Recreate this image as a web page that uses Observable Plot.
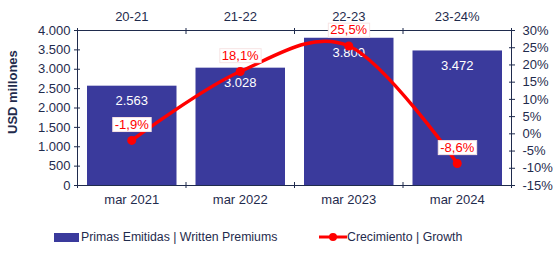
<!DOCTYPE html>
<html>
<head>
<meta charset="utf-8">
<script src="https://cdn.jsdelivr.net/npm/d3@7"></script>
<script src="https://cdn.jsdelivr.net/npm/@observablehq/plot@0.6"></script>
<style>
  html, body { margin: 0; padding: 0; background: #fff; }
  #wrap { position: relative; width: 557px; font-family: "Liberation Sans", Arial, sans-serif; }
  #legend { position: relative; height: 32px; font-size: 12.3px; color: #1F2B4D; }
  #legend .sw { position: absolute; }
  #legend .tx { position: absolute; top: 8px; white-space: nowrap; }
</style>
</head>
<body>
<div id="wrap"></div>
<script>
const categories = ["mar 2021", "mar 2022", "mar 2023", "mar 2024"];
const periods = ["20-21", "21-22", "22-23", "23-24%"];
const premiums = [2563, 3028, 3800, 3472];
const growth = [-1.9, 18.1, 25.5, -8.6];
const growthLabels = ["-1,9%", "18,1%", "25,5%", "-8,6%"];
const leftTicks = [0, 500, 1000, 1500, 2000, 2500, 3000, 3500, 4000];
const rightTicks = [-15, -10, -5, 0, 5, 10, 15, 20, 25, 30];
const seriesNames = ["Primas Emitidas | Written Premiums", "Crecimiento | Growth"];

const barColor = "#3A3A9C";
const lineColor = "#FF0000";
const navy = "#1F2B4D";

const pMin = -15, pMax = 30, yMax = 4000;
const p2y = p => (p - pMin) / (pMax - pMin) * yMax;
const fmt = d3.formatLocale({decimal: ",", thousands: ".", grouping: [3]}).format(",d");

const data = categories.map((c, i) => ({i, c, premium: premiums[i], growth: growth[i], gl: growthLabels[i]}));

const chart = Plot.plot({
  width: 557,
  height: 222,
  marginLeft: 77,
  marginRight: 46,
  marginTop: 30,
  marginBottom: 37,
  style: {fontSize: "13px", fontFamily: "'Liberation Sans', Arial, sans-serif", color: navy, background: "white"},
  x: {type: "linear", domain: [0, categories.length], axis: null, label: null},
  y: {domain: [0, yMax], axis: null, label: null},
  marks: [
    Plot.rectY(data, {x1: "i", x2: d => d.i + 1, y: "premium", insetLeft: 10, insetRight: 9, fill: barColor}),
    Plot.text(data, {x: d => d.i + 0.5, y: "premium", text: d => fmt(d.premium), dy: 15, fill: "white", fontSize: 13}),
    Plot.frame({stroke: navy, strokeWidth: 1}),
    // left axis: crossing ticks + labels
    Plot.axisY({anchor: "left", label: null, ticks: leftTicks, tickSize: 6, dx: 3, tickFormat: () => "", color: navy}),
    Plot.axisY({anchor: "left", label: null, ticks: leftTicks, tickSize: 0, tickPadding: 7, tickFormat: fmt, color: navy}),
    // right axis (percent)
    Plot.axisY({anchor: "right", label: null, ticks: rightTicks.map(p2y), tickSize: 6, dx: -3, tickFormat: () => "", color: navy}),
    Plot.axisY({anchor: "right", label: null, ticks: rightTicks.map(p2y), tickSize: 0, tickPadding: 11, textAnchor: "start",
      tickFormat: v => `${Math.round(v / yMax * (pMax - pMin) + pMin)}%`, color: navy}),
    // top axis: boundary ticks + period labels
    Plot.axisX({anchor: "top", label: null, ticks: d3.range(categories.length + 1), tickSize: 6, dy: 3, tickFormat: () => "", color: navy}),
    Plot.axisX({anchor: "top", label: null, ticks: categories.map((c, i) => i + 0.5), tickSize: 0, tickPadding: 10,
      tickFormat: v => periods[Math.floor(v)], color: navy}),
    // bottom axis
    Plot.axisX({anchor: "bottom", label: null, ticks: d3.range(categories.length + 1), tickSize: 6, dy: -3, tickFormat: () => "", color: navy}),
    Plot.axisX({anchor: "bottom", label: null, ticks: categories.map((c, i) => i + 0.5), tickSize: 0, tickPadding: 9,
      tickFormat: v => categories[Math.floor(v)], color: navy}),
    // growth line
    Plot.line(data, {x: d => d.i + 0.5, y: d => p2y(d.growth), stroke: lineColor, strokeWidth: 3.5, curve: "cardinal", tension: 0}),
    Plot.dot(data, {x: d => d.i + 0.5, y: d => p2y(d.growth), r: 4.5, fill: lineColor, stroke: "none"}),
    Plot.text(data, {x: d => d.i + 0.5, y: d => p2y(d.growth), text: "gl", dy: -16, fill: lineColor, fontSize: 13, className: "glabel"}),
    // y title
    Plot.text(["USD millones"], {frameAnchor: "left", dx: -65, dy: 26, rotate: -90, fontWeight: "bold", fontSize: 13, fill: navy})
  ]
});

const wrap = document.getElementById("wrap");
wrap.appendChild(chart);

// white boxes behind growth labels
chart.querySelectorAll("g.glabel text").forEach(t => {
  const b = t.getBBox();
  const r = document.createElementNS("http://www.w3.org/2000/svg", "rect");
  r.setAttribute("x", b.x - 2);
  r.setAttribute("y", b.y + 1);
  r.setAttribute("width", b.width + 4);
  r.setAttribute("height", b.height - 1);
  r.setAttribute("fill", "white");
  r.setAttribute("stroke", "#f7e4e4");
  r.setAttribute("stroke-width", "1");
  const tr = t.getAttribute("transform");
  if (tr) r.setAttribute("transform", tr);
  t.parentNode.insertBefore(r, t);
});

// legend
const legend = document.createElement("div");
legend.id = "legend";
legend.innerHTML = `
  <div class="sw" style="left:54px;top:11px;width:25px;height:9px;background:${barColor}"></div>
  <div class="tx" style="left:81px">${seriesNames[0]}</div>
  <svg class="sw" style="left:319px;top:9px" width="28" height="12">
    <line x1="0" y1="6" x2="28" y2="6" stroke="${lineColor}" stroke-width="3"/>
    <circle cx="14" cy="6" r="4" fill="${lineColor}"/>
  </svg>
  <div class="tx" style="left:347px">${seriesNames[1]}</div>`;
wrap.appendChild(legend);
</script>
</body>
</html>
